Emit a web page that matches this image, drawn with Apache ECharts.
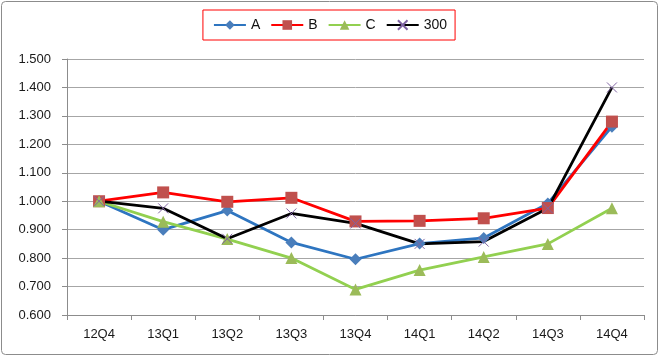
<!DOCTYPE html>
<html><head><meta charset="utf-8">
<script src="https://cdn.jsdelivr.net/npm/echarts@6/dist/echarts.min.js"></script>
<style>html,body{margin:0;padding:0;background:#fff}#c{width:660px;height:358px}</style>
</head><body><div id="c"></div>
<script>
const categories = ['12Q4','13Q1','13Q2','13Q3','13Q4','14Q1','14Q2','14Q3','14Q4'];
const seriesA = [1.000,0.900,0.967,0.855,0.796,0.851,0.871,0.992,1.262];
const seriesB = [1.000,1.031,0.998,1.012,0.929,0.931,0.940,0.976,1.280];
const seriesC = [1.000,0.928,0.867,0.800,0.690,0.758,0.804,0.850,0.975];
const series300 = [1.000,0.975,0.868,0.957,0.922,0.850,0.858,0.975,1.400];
const yTicks = ['0.600','0.700','0.800','0.900','1.000','1.100','1.200','1.300','1.400','1.500'];

const font = 'Liberation Sans';
const chart = echarts.init(document.getElementById('c'), null, {renderer:'canvas'});
function mk(name, data, lineColor, markColor, symbol, size, extra){
  return Object.assign({
    name, type:'line', data, symbol, symbolSize:size,
    lineStyle:{color:lineColor, width:2.8},
    itemStyle:{color:markColor},
    emphasis:{disabled:true}, animation:false, z: 2
  }, extra||{});
}
chart.setOption({
  animation:false,
  textStyle:{fontFamily:font},
  graphic:[{type:'rect', shape:{x:1.5,y:1.5,width:656,height:353,r:4}, style:{fill:'none',stroke:'#8c8c8c',lineWidth:1}, z:-1}],
  legend:{
    top:10, left:'center', padding:[8,8,8,10],
    borderColor:'#ff0000', borderWidth:1,
    itemWidth:32, itemHeight:12, itemGap:10,
    textStyle:{fontFamily:font, fontSize:14, color:'#111'},
    data:['A','B','C','300']
  },
  grid:{left:67, right:16, top:59, bottom:43},
  xAxis:{
    type:'category', data:categories, boundaryGap:true,
    axisLine:{lineStyle:{color:'#8c8c8c'}},
    axisTick:{show:true, length:5, lineStyle:{color:'#8c8c8c'}},
    axisLabel:{fontFamily:font, fontSize:13, color:'#1a1a1a', margin:13}
  },
  yAxis:{
    type:'value', min:0.6, max:1.5, interval:0.1,
    axisLine:{show:true, lineStyle:{color:'#8c8c8c'}},
    axisTick:{show:true, length:5, lineStyle:{color:'#8c8c8c'}},
    splitLine:{lineStyle:{color:'#a6a6a6', width:1}},
    axisLabel:{fontFamily:font, fontSize:13, color:'#1a1a1a', margin:16,
      formatter:(v)=>yTicks[Math.round((v-0.6)*10)] }
  },
  series:[
    mk('A', seriesA, '#2e75c0', '#4a7ebb', 'diamond', 12),
    mk('B', seriesB, '#ff0000', '#c0504d', 'rect', 12),
    mk('C', seriesC, '#92d050', '#9bbb59', 'triangle', 12),
    mk('300', series300, '#000000', '#8064a2', 'path://M0,0L10,10M10,0L0,10', 10,
      {itemStyle:{color:'rgba(0,0,0,0)', borderColor:'#8064a2', borderWidth:1}})
  ]
});
</script></body></html>
